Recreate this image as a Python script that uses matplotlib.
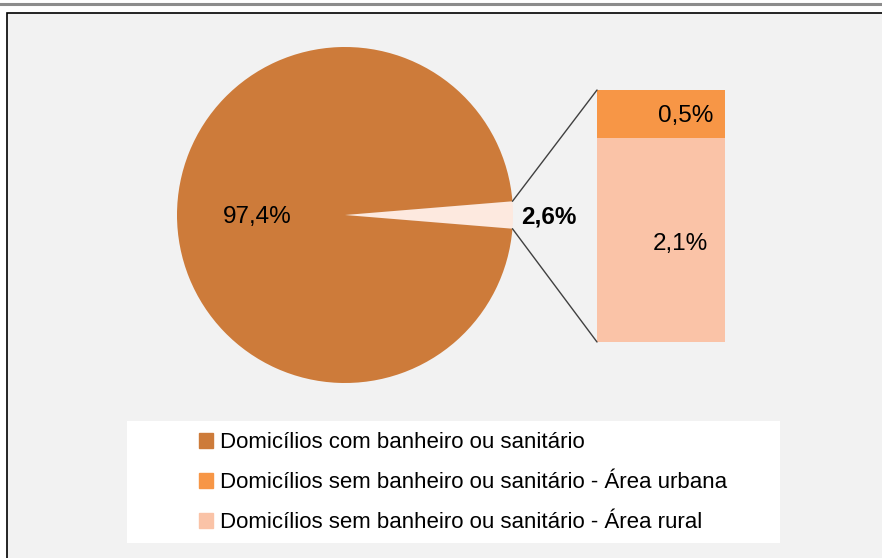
import matplotlib
matplotlib.use("Agg")
import matplotlib.pyplot as plt
from matplotlib.patches import Rectangle, ConnectionPatch
from matplotlib.lines import Line2D
import numpy as np

# ---- data ----
pie_labels = ["Domicílios sem banheiro ou sanitário", "Domicílios com banheiro ou sanitário"]
pie_values = [2.6, 97.4]
pie_texts = ["2,6%", "97,4%"]
bar_labels = ["Domicílios sem banheiro ou sanitário - Área rural",
              "Domicílios sem banheiro ou sanitário - Área urbana"]
bar_values = [2.1, 0.5]
bar_texts = ["2,1%", "0,5%"]

c_main = "#CD7B3A"
c_small = "#FDE9DF"
c_urban = "#F79646"
c_rural = "#FAC3A7"

W, H = 882, 558
fig = plt.figure(figsize=(W / 100, H / 100), dpi=100)
fig.patch.set_facecolor("white")

def fx(x): return x / W
def fy(y): return 1 - y / H

# top gray rule
fig.add_artist(Line2D([0, 1], [fy(3.5), fy(3.5)], color="#8C8C8C", lw=2.2,
                      transform=fig.transFigure))
# chart area box
fig.add_artist(Rectangle((fx(7), fy(600)), fx(1000), 587 / H, transform=fig.transFigure,
                         facecolor="#F2F2F2", edgecolor="black", lw=1.2, zorder=0))

font_lab = ["Liberation Sans", "DejaVu Sans"]
lab_size = 17.5

# ---- pie ----
cx, cy, r = 345, 215, 168
axp = fig.add_axes([fx(cx - r), fy(cy + r), 2 * r / W, 2 * r / H])
half = pie_values[0] / sum(pie_values) * 360 / 2
wedges, _ = axp.pie(pie_values, colors=[c_small, c_main], startangle=-half,
                    counterclock=True, radius=1,
                    wedgeprops=dict(linewidth=0))
axp.set_xlim(-1, 1)
axp.set_ylim(-1, 1)
axp.set_aspect("auto")
axp.axis("off")
axp.text(-0.524, -0.012, pie_texts[1], ha="center", va="center", fontsize=lab_size,
         family=font_lab)
axp.text(1.214, -0.012, pie_texts[0], ha="center", va="center", fontsize=lab_size,
         family=font_lab, fontweight="bold")

# ---- bar ----
bx0, bx1, by0, by1 = 597, 725, 90, 342
axb = fig.add_axes([fx(bx0), fy(by1), (bx1 - bx0) / W, (by1 - by0) / H])
bottom = 0
for v, col in zip(bar_values, [c_rural, c_urban]):
    axb.bar(0, v, bottom=bottom, width=1, color=col, linewidth=0)
    bottom += v
axb.set_xlim(-0.5, 0.5)
axb.set_ylim(0, sum(bar_values))
axb.axis("off")
axb.text(0.148, 1.011, bar_texts[0], ha="center", va="center",
         fontsize=lab_size, family=font_lab)
axb.text(0.19, 2.332, bar_texts[1], ha="center",
         va="center", fontsize=lab_size, family=font_lab)

# connector lines
ang = np.deg2rad(half)
for sgn, yb in [(1, sum(bar_values)), (-1, 0)]:
    con = ConnectionPatch(xyA=(np.cos(ang), sgn * np.sin(ang)), coordsA=axp.transData,
                          xyB=(-0.5, yb), coordsB=axb.transData,
                          color="#404040", lw=1.0)
    fig.add_artist(con)

# ---- legend ----
fig.add_artist(Rectangle((fx(127), fy(543)), (780 - 127) / W, (543 - 421) / H,
                         transform=fig.transFigure, facecolor="white",
                         edgecolor="none", zorder=1))
handles = [Rectangle((0, 0), 1, 1, color=c) for c in [c_main, c_urban, c_rural]]
labels = [pie_labels[1], bar_labels[1], bar_labels[0]]
leg = fig.legend(handles, labels, loc="upper left",
                 bbox_to_anchor=(fx(199), fy(432)), frameon=False,
                 prop=dict(family=font_lab, size=16),
                 handlelength=0.65, handleheight=0.65, handletextpad=0.3,
                 labelspacing=0.86, borderpad=0, borderaxespad=0)
leg.set_zorder(2)

fig.savefig("out.png", dpi=100)
